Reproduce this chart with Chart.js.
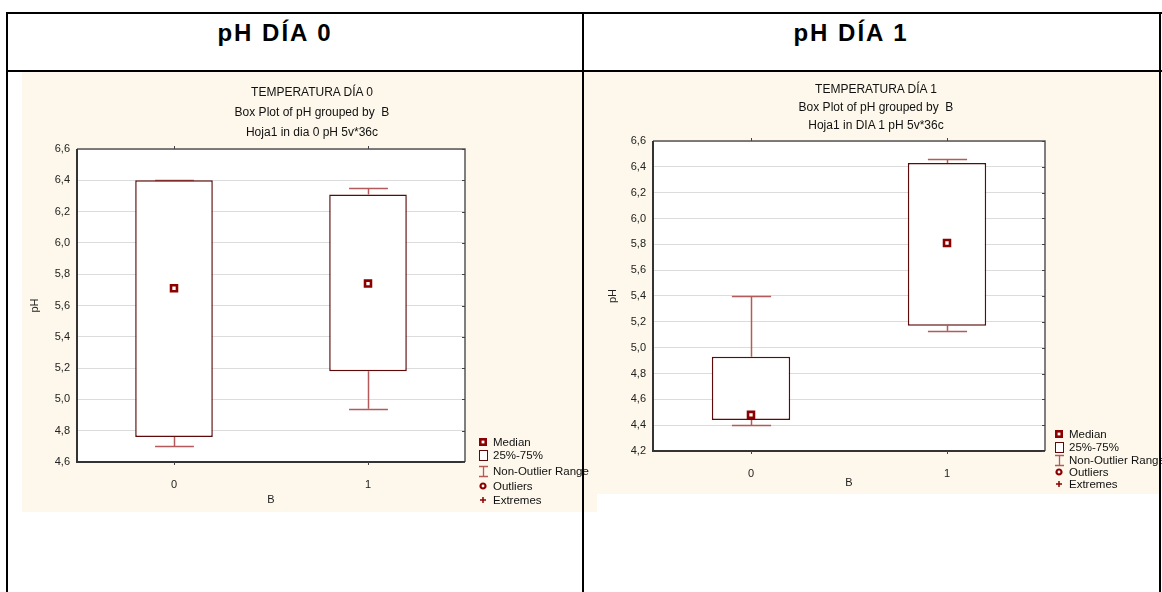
<!DOCTYPE html>
<html>
<head>
<meta charset="utf-8">
<script src="https://cdn.jsdelivr.net/npm/chart.js@4.4.1/dist/chart.umd.min.js"></script>
<style>
  html, body { margin:0; padding:0; background:#fff; width:1162px; height:592px; overflow:hidden; font-family:'Liberation Sans', Arial, sans-serif; }
  .line { position:absolute; background:#000; }
  .panel { position:absolute; background:#fdf8eb; }
  canvas { position:absolute; }
  .hdr { position:absolute; font-weight:bold; font-size:24px; letter-spacing:2px; text-align:center; color:#000; }
  .ttl { position:absolute; font-size:12px; text-align:center; color:#111; white-space:nowrap; }
  .leg { position:absolute; font-size:11.5px; color:#111; white-space:nowrap; line-height:14px; }
  .sym { position:absolute; }
</style>
</head>
<body>
<div class="panel" style="left:22px;top:72px;width:575px;height:440px;"></div>
<div class="panel" style="left:585px;top:72px;width:575px;height:422px;"></div>

<canvas id="c0" width="575" height="440" style="left:22px;top:72px;"></canvas>
<canvas id="c1" width="575" height="422" style="left:585px;top:72px;"></canvas>

<div class="hdr" style="left:135px;top:19px;width:280px;">pH DÍA 0</div>
<div class="hdr" style="left:711px;top:19px;width:280px;">pH DÍA 1</div>

<div class="ttl" style="left:162px;top:85px;width:300px;">TEMPERATURA DÍA 0</div>
<div class="ttl" style="left:162px;top:105px;width:300px;">Box Plot of pH grouped by &nbsp;B</div>
<div class="ttl" style="left:162px;top:125px;width:300px;">Hoja1 in dia 0 pH 5v*36c</div>

<div class="ttl" style="left:726px;top:82px;width:300px;">TEMPERATURA DÍA 1</div>
<div class="ttl" style="left:726px;top:100px;width:300px;">Box Plot of pH grouped by &nbsp;B</div>
<div class="ttl" style="left:726px;top:118px;width:300px;">Hoja1 in DIA 1 pH 5v*36c</div>

<div id="leg0"></div>
<div id="leg1"></div>

<!-- table borders -->
<div class="line" style="left:7px;top:12px;width:1155px;height:2px;"></div>
<div class="line" style="left:7px;top:70px;width:1155px;height:2px;"></div>
<div class="line" style="left:6px;top:12px;width:2px;height:580px;"></div>
<div class="line" style="left:582px;top:12px;width:2px;height:580px;"></div>
<div class="line" style="left:1159px;top:12px;width:2px;height:580px;"></div>

<script>
// ---------- data ----------
const categories = ['0', '1'];
const legendLabels = ['Median', '25%-75%', 'Non-Outlier Range', 'Outliers', 'Extremes'];

const day0Q1     = [4.76, 5.18];
const day0Q3     = [6.40, 6.31];
const day0Median = [5.71, 5.74];
const day0Low    = [4.70, 4.94];
const day0High   = [6.40, 6.35];

const day1Q1     = [4.44, 5.17];
const day1Q3     = [4.93, 6.43];
const day1Median = [4.48, 5.81];
const day1Low    = [4.40, 5.13];
const day1High   = [5.40, 6.46];

const yTicks0 = ['4,6','4,8','5,0','5,2','5,4','5,6','5,8','6,0','6,2','6,4','6,6'];
const yTicks1 = ['4,2','4,4','4,6','4,8','5,0','5,2','5,4','5,6','5,8','6,0','6,2','6,4','6,6'];

// ---------- styling ----------
const FONT = "'Liberation Sans', Arial, sans-serif";
const BOX_COLOR = '#5e0a0a';
const WHISK_COLOR = '#b45a5a';
const MED_COLOR = '#8b0000';

const plotBg = {
  id: 'plotBg',
  beforeDraw(chart) {
    const {ctx, chartArea:a} = chart;
    ctx.save();
    ctx.fillStyle = '#ffffff';
    ctx.fillRect(a.left, a.top, a.right - a.left, a.bottom - a.top);
    ctx.restore();
  }
};

const whiskers = {
  id: 'whiskers',
  beforeDatasetsDraw(chart) {
    const opts = chart.options.plugins.whiskers;
    const {ctx} = chart;
    const xs = chart.scales.x, ys = chart.scales.y;
    const meta = chart.getDatasetMeta(0);
    ctx.save();
    ctx.strokeStyle = WHISK_COLOR;
    ctx.lineWidth = 1.5;
    opts.low.forEach((lo, i) => {
      const x = Math.round(xs.getPixelForValue(i)) + 0.5;
      const hw = meta.data[i].width / 4;
      const segs = [[lo, opts.q1[i]], [opts.q3[i], opts.high[i]]];
      segs.forEach(([a, b]) => {
        if (Math.abs(a - b) < 1e-9) return;
        ctx.beginPath();
        ctx.moveTo(x, ys.getPixelForValue(a));
        ctx.lineTo(x, ys.getPixelForValue(b));
        ctx.stroke();
      });
      [lo, opts.high[i]].forEach(v => {
        const y = Math.round(ys.getPixelForValue(v)) + 0.5;
        ctx.beginPath();
        ctx.moveTo(x - hw, y);
        ctx.lineTo(x + hw, y);
        ctx.stroke();
      });
    });
    ctx.restore();
  }
};

const frame = {
  id: 'frame',
  afterDatasetsDraw(chart) {
    const {ctx, chartArea:a} = chart;
    const xs = chart.scales.x, ys = chart.scales.y;
    ctx.save();
    ctx.strokeStyle = '#555';
    ctx.lineWidth = 1.5;
    ctx.beginPath();
    ctx.moveTo(a.left, a.top); ctx.lineTo(a.right, a.top); ctx.lineTo(a.right, a.bottom);
    ctx.stroke();
    ctx.strokeStyle = '#333';
    ctx.lineWidth = 2;
    ctx.beginPath();
    ctx.moveTo(a.left, a.top); ctx.lineTo(a.left, a.bottom); ctx.lineTo(a.right, a.bottom);
    ctx.stroke();
    ctx.lineWidth = 1;
    ctx.strokeStyle = '#444';
    categories.forEach((c, i) => {
      const x = Math.round(xs.getPixelForValue(i)) + 0.5;
      ctx.beginPath(); ctx.moveTo(x, a.bottom); ctx.lineTo(x, a.bottom + 3); ctx.stroke();
      ctx.beginPath(); ctx.moveTo(x, a.top); ctx.lineTo(x, a.top - 3); ctx.stroke();
    });
    ys.ticks.forEach(t => {
      const y = Math.round(ys.getPixelForValue(t.value)) + 0.5;
      ctx.beginPath(); ctx.moveTo(a.right, y); ctx.lineTo(a.right - 3, y); ctx.stroke();
    });
    ctx.restore();
  }
};

function makeChart(id, cfg) {
  const labels = cfg.ticks;
  return new Chart(document.getElementById(id), {
    data: {
      labels: categories,
      datasets: [
        {
          type: 'bar',
          data: cfg.q1.map((v, i) => [v, cfg.q3[i]]),
          backgroundColor: '#ffffff',
          borderColor: BOX_COLOR,
          borderWidth: 1.5,
          borderSkipped: false,
          barPercentage: 0.4,
          categoryPercentage: 1,
          order: 2
        },
        {
          type: 'line',
          data: cfg.median,
          showLine: false,
          pointStyle: 'rect',
          pointRadius: 4.2,
          pointHoverRadius: 4.2,
          pointBorderWidth: 2.6,
          pointBorderColor: MED_COLOR,
          pointBackgroundColor: '#ffffff',
          order: 1
        }
      ]
    },
    options: {
      responsive: false,
      animation: false,
      devicePixelRatio: 1,
      layout: { padding: cfg.padding },
      plugins: {
        legend: { display: false },
        tooltip: { enabled: false },
        title: { display: false },
        whiskers: { low: cfg.low, high: cfg.high, q1: cfg.q1, q3: cfg.q3 }
      },
      scales: {
        x: {
          type: 'category',
          offset: true,
          grid: { display: false },
          border: { display: false },
          ticks: { color: '#222', font: { family: FONT, size: 11 }, padding: cfg.xTickPad },
          title: { display: true, text: 'B', color: '#222', font: { family: FONT, size: 11 }, padding: { top: 0, bottom: cfg.xTitlePad } },
          afterFit: s => { s.height = cfg.xHeight; }
        },
        y: {
          min: cfg.min, max: cfg.max,
          grid: { color: '#dcdcdc', lineWidth: 1, drawTicks: false },
          border: { display: false },
          ticks: {
            stepSize: 0.2, color: '#222', padding: 7,
            font: { family: FONT, size: 11 },
            callback: (v) => {
              const idx = Math.round((v - cfg.min) / 0.2);
              return labels[idx];
            }
          },
          title: { display: true, text: 'pH', color: '#222', font: { family: FONT, size: 11 }, padding: { top: cfg.yTitlePad, bottom: 0 } },
          afterFit: s => { s.width = cfg.yWidth; }
        }
      }
    },
    plugins: [plotBg, whiskers, frame]
  });
}

makeChart('c0', {
  q1: day0Q1, q3: day0Q3, median: day0Median, low: day0Low, high: day0High,
  ticks: yTicks0, min: 4.6, max: 6.6,
  padding: { top: 77, right: 132, bottom: 0, left: 0 },
  yWidth: 55, xHeight: 50, yTitlePad: 6, xTitlePad: 5, xTickPad: 8
});
makeChart('c1', {
  q1: day1Q1, q3: day1Q3, median: day1Median, low: day1Low, high: day1High,
  ticks: yTicks1, min: 4.2, max: 6.6,
  padding: { top: 69, right: 115, bottom: 0, left: 0 },
  yWidth: 68, xHeight: 43, yTitlePad: 21, xTitlePad: 4, xTickPad: 8
});

// ---------- legends (HTML) ----------
function symbolSvg(kind) {
  const c = MED_COLOR;
  switch (kind) {
    case 0: return `<svg width="8" height="8"><rect x="1.3" y="1.3" width="5.4" height="5.4" fill="#fff" stroke="${c}" stroke-width="2.6"/></svg>`;
    case 1: return `<svg width="11" height="13"><rect x="1.5" y="1.5" width="8" height="10" fill="#fff" stroke="#5e0a0a" stroke-width="1"/></svg>`;
    case 2: return `<svg width="11" height="13"><path d="M1 1.5H10M5.5 1.5V11.5M1 11.5H10" stroke="#b45a5a" stroke-width="1.3" fill="none"/></svg>`;
    case 3: return `<svg width="8" height="8"><circle cx="4" cy="4" r="2.5" fill="#fff" stroke="${c}" stroke-width="2.2"/></svg>`;
    case 4: return `<svg width="8" height="8"><path d="M4 1V7M1 4H7" stroke="${c}" stroke-width="1.5"/></svg>`;
  }
}
function buildLegend(el, symX, textX, rows, symSizes) {
  const host = document.getElementById(el);
  legendLabels.forEach((lab, i) => {
    const [w, h] = symSizes[i];
    const s = document.createElement('div');
    s.className = 'sym';
    s.style.left = (symX - w / 2) + 'px';
    s.style.top = (rows[i] - h / 2) + 'px';
    s.style.lineHeight = '0';
    s.innerHTML = symbolSvg(i);
    host.appendChild(s);
    const t = document.createElement('div');
    t.className = 'leg';
    t.style.left = textX + 'px';
    t.style.top = (rows[i] - 7) + 'px';
    t.textContent = lab;
    host.appendChild(t);
  });
}
const symSizes = [[8, 8], [11, 13], [11, 13], [8, 8], [8, 8]];
buildLegend('leg0', 483, 493, [442, 455, 471, 486, 500], symSizes);
buildLegend('leg1', 1059, 1069, [434, 447, 460, 472, 484], symSizes);
</script>
</body>
</html>
